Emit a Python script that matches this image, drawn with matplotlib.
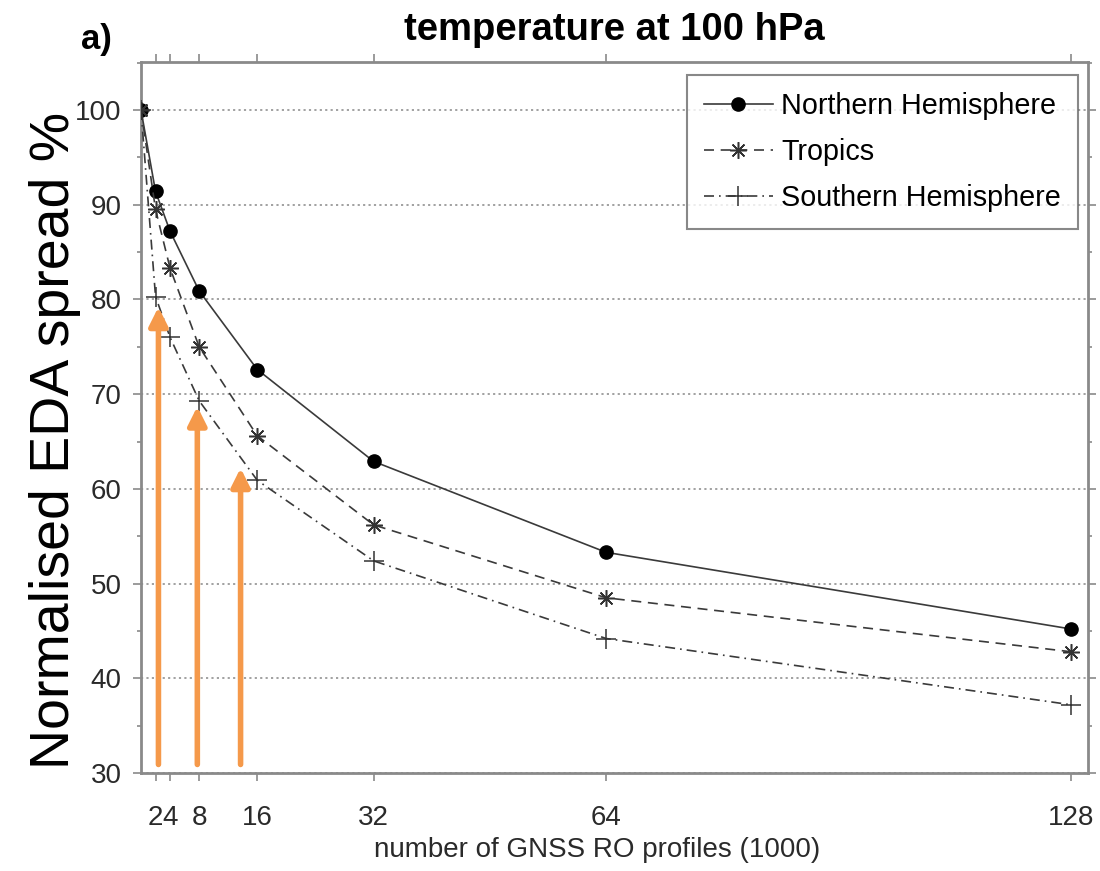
import matplotlib
matplotlib.use("Agg")
import matplotlib.pyplot as plt

plt.rcParams['font.family'] = ['Liberation Sans', 'DejaVu Sans']

# ---- data ----
profiles = [0, 2, 4, 8, 16, 32, 64, 128]
northern = [100, 91.4, 87.2, 80.9, 72.6, 62.9, 53.3, 45.2]
tropics = [100, 89.5, 83.3, 75.0, 65.6, 56.2, 48.5, 42.8]
southern = [100, 80.3, 76.0, 69.3, 60.9, 52.4, 44.2, 37.2]
xticks = [2, 4, 8, 16, 32, 64, 128]
xticklabels = ['2', '4', '8', '16', '32', '64', '128']
yticks = [30, 40, 50, 60, 70, 80, 90, 100]
arrow_x = [2.4, 7.75, 13.7]
arrow_tip = [79.2, 68.7, 62.2]
arrow_base = 30.9

fig = plt.figure(figsize=(11, 8.71), dpi=100)
ax = fig.add_axes([141/1100, 1-773/871, (1088-141)/1100, (773-62)/871])

line_col = '#3a3a3a'
ax.plot(profiles, northern, '-', color=line_col, lw=1.2, marker='o', ms=9.5,
        mfc='black', mec='black', label='Northern Hemisphere', zorder=4)
ax.plot(profiles, tropics, '--', color=line_col, lw=1.2, dashes=(6, 4),
        marker=(8, 2, 0), ms=12, mec='#333333', mew=1.1, label='Tropics', zorder=4)
ax.plot(profiles, southern, '-.', color=line_col, lw=1.2, dashes=(6, 3, 1, 3),
        marker='+', ms=14, mec='#333333', mew=1.1, label='Southern Hemisphere', zorder=4)

for xa, yt in zip(arrow_x, arrow_tip):
    ax.annotate('', xy=(xa, yt), xytext=(xa, arrow_base),
                arrowprops=dict(arrowstyle='-|>,head_length=1.1,head_width=0.55',
                                color='#F5994A', lw=4, shrinkA=0, shrinkB=0),
                zorder=5)

ax.set_xlim(0, 130.3)
ax.set_ylim(30, 105.07)
ax.set_xticks(xticks)
ax.set_xticklabels(xticklabels)
ax.set_yticks(yticks)
ax.set_yticks([35, 45, 55, 65, 75, 85, 95, 105], minor=True)

ax.yaxis.grid(True, which='major', linestyle=(0, (1.2, 1.8)), color='#9a9a9a', lw=1.3)
ax.set_axisbelow(True)

for s in ax.spines.values():
    s.set_color('#8a8a8a')
    s.set_linewidth(2)

ax.tick_params(which='major', direction='out', length=6, width=1.2, color='#8a8a8a',
               labelsize=20, labelcolor='#2a2a2a', top=True, right=True, pad=8)
ax.tick_params(which='minor', direction='out', length=3, width=1.2, color='#8a8a8a',
               right=True, left=True)
ax.tick_params(axis='x', which='major', pad=17)
ax.tick_params(labeltop=False, labelright=False)

ax.set_xlabel('number of GNSS RO profiles (1000)', fontsize=20, color='#2a2a2a',
              x=(597-141)/947, labelpad=4)
ax.set_title('temperature at 100 hPa', fontsize=27.5, fontweight='bold', pad=16)
fig.text(96/1100, 1-40/871, 'a)', fontsize=25, fontweight='bold', ha='center', va='center')
fig.text(55/1100, 1-440/871, 'Normalised EDA spread %', fontsize=40, rotation=90,
         ha='center', va='center', color='black')

leg = ax.legend(loc='upper right', bbox_to_anchor=((1078-141)/947, (773-75)/711),
                fontsize=20.7, frameon=True, fancybox=False, edgecolor='#6a6a6a',
                handlelength=2.4, borderaxespad=0, labelspacing=0.62,
                handletextpad=0.28, borderpad=0.6)
leg.get_frame().set_linewidth(1.5)

fig.savefig('out.png', dpi=100)
